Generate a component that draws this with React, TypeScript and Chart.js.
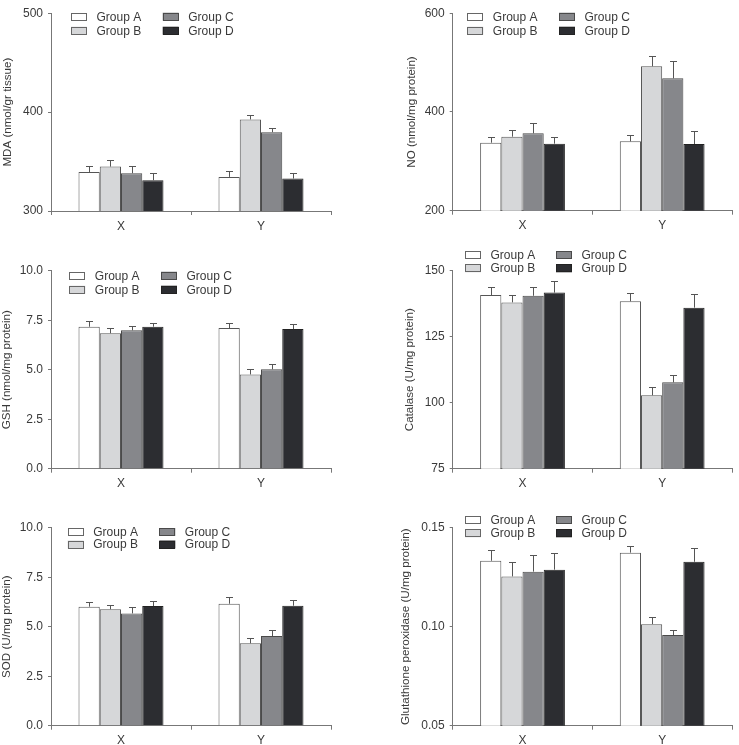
import { useEffect, useRef } from 'react';
import { Chart, registerables } from 'chart.js';

Chart.register(...registerables);

// ---- data ----
const categories = ['X', 'Y'];
const groupNames = ['Group A', 'Group B', 'Group C', 'Group D'];

// Means per group, ordered [X, Y]; errors are the upward SEM whiskers.
const mdaMeans = [[339.5, 334.5], [344.9, 392.6], [338.2, 379.7], [331.1, 332.8]];
const mdaErrors = [[6.4, 6.4], [6.5, 4.7], [7.1, 4.4], [7.1, 5.4]];
const mdaTicks = [300, 400, 500];

const noMeans = [[337.8, 340.5], [350.0, 492.6], [356.8, 468.2], [335.8, 335.1]];
const noErrors = [[11.5, 12.9], [13.5, 21.6], [20.9, 34.5], [13.5, 27.1]];
const noTicks = [200, 400, 600];

const gshMeans = [[7.17, 7.10], [6.84, 4.76], [6.99, 5.02], [7.17, 7.05]];
const gshErrors = [[0.27, 0.27], [0.26, 0.26], [0.20, 0.25], [0.20, 0.26]];
const gshTicks = [0, 2.5, 5, 7.5, 10];

const catalaseMeans = [[140.8, 138.4], [138.0, 102.8], [140.5, 107.7], [141.7, 136.0]];
const catalaseErrors = [[3.1, 3.3], [2.7, 3.0], [3.4, 2.8], [4.4, 5.3]];
const catalaseTicks = [75, 100, 125, 150];

const sodMeans = [[6.01, 6.16], [5.88, 4.16], [5.67, 4.53], [6.04, 6.06]];
const sodErrors = [[0.25, 0.32], [0.23, 0.27], [0.32, 0.32], [0.24, 0.30]];
const sodTicks = [0, 2.5, 5, 7.5, 10];

const gpxMeans = [[0.1333, 0.1374], [0.1254, 0.1013], [0.1278, 0.0958], [0.1288, 0.1328]];
const gpxErrors = [[0.0054, 0.0032], [0.0074, 0.0036], [0.0086, 0.0023], [0.0082, 0.0071]];
const gpxTicks = [0.05, 0.1, 0.15];

// ---- styling ----
const FONT = '"Liberation Sans", Arial, Helvetica, sans-serif';
const AXIS = '#777777';
const TEXT = '#3a3a3a';
const groupFills = ['#ffffff', '#d6d7d9', '#86878b', '#2c2d31'];
const groupBorders = ['#555555', '#555555', '#4a4a4a', '#222222'];

type PanelSpec = {
  title: string;
  means: number[][];
  errors: number[][];
  ticks: number[];
  decimals: number;
  pos: { x: number; y: number; w: number; h: number };
  area: { l: number; r: number; t: number; b: number };
  titleX: number;
  legend: { x: number; y: number; dy: number; col2: number };
};

const panels: PanelSpec[] = [
  {
    title: 'MDA (nmol/gr tissue)', means: mdaMeans, errors: mdaErrors, ticks: mdaTicks, decimals: 0,
    pos: { x: 0, y: 0, w: 370, h: 245 }, area: { l: 51, r: 331, t: 13.3, b: 211 }, titleX: 8,
    legend: { x: 71, y: 12.7, dy: 14, col2: 91.7 },
  },
  {
    title: 'NO (nmol/mg protein)', means: noMeans, errors: noErrors, ticks: noTicks, decimals: 0,
    pos: { x: 370, y: 0, w: 369, h: 245 }, area: { l: 82.7, r: 362, t: 13.3, b: 210.7 }, titleX: 41.7,
    legend: { x: 97.3, y: 12.7, dy: 14, col2: 91.7 },
  },
  {
    title: 'GSH (nmol/mg protein)', means: gshMeans, errors: gshErrors, ticks: gshTicks, decimals: 1,
    pos: { x: 0, y: 250, w: 370, h: 245 }, area: { l: 51, r: 331, t: 20.7, b: 218.7 }, titleX: 7.3,
    legend: { x: 69.3, y: 21.7, dy: 14, col2: 91.7 },
  },
  {
    title: 'Catalase (U/mg protein)', means: catalaseMeans, errors: catalaseErrors, ticks: catalaseTicks, decimals: 0,
    pos: { x: 370, y: 250, w: 369, h: 245 }, area: { l: 82.7, r: 362, t: 20.7, b: 218.7 }, titleX: 40,
    legend: { x: 95, y: 1, dy: 13.3, col2: 91 },
  },
  {
    title: 'SOD (U/mg protein)', means: sodMeans, errors: sodErrors, ticks: sodTicks, decimals: 1,
    pos: { x: 0, y: 500, w: 370, h: 245 }, area: { l: 51, r: 331, t: 27.7, b: 225.7 }, titleX: 7.3,
    legend: { x: 67.7, y: 28, dy: 12.5, col2: 91.6 },
  },
  {
    title: 'Glutathione peroxidase (U/mg protein)', means: gpxMeans, errors: gpxErrors, ticks: gpxTicks, decimals: 2,
    pos: { x: 370, y: 500, w: 369, h: 245 }, area: { l: 82.7, r: 362, t: 27.7, b: 225.7 }, titleX: 35.7,
    legend: { x: 95, y: 16, dy: 13.3, col2: 91 },
  },
];

// Upward whiskers with a short cap, drawn above each bar.
const errorBars = {
  id: 'errorBars',
  afterDatasetsDraw(chart: any) {
    const ctx = chart.ctx;
    const y = chart.scales.y;
    chart.data.datasets.forEach((ds: any, i: number) => {
      const meta = chart.getDatasetMeta(i);
      meta.data.forEach((bar: any, j: number) => {
        const v = ds.data[j];
        const e = ds.errors[j];
        const x = Math.round(bar.x) + 0.5;
        const y0 = y.getPixelForValue(v);
        const y1 = Math.round(y.getPixelForValue(v + e)) + 0.5;
        ctx.save();
        ctx.strokeStyle = '#555555';
        ctx.lineWidth = 1;
        ctx.beginPath();
        ctx.moveTo(x, y0);
        ctx.lineTo(x, y1);
        ctx.moveTo(x - 3.5, y1);
        ctx.lineTo(x + 3.5, y1);
        ctx.stroke();
        ctx.restore();
      });
    });
  },
};

// Two-column legend: A/B in the first column, C/D in the second.
function boxLegend(spec: PanelSpec['legend']) {
  return {
    id: 'boxLegend',
    afterDraw(chart: any) {
      const ctx = chart.ctx;
      ctx.save();
      ctx.font = `12px ${FONT}`;
      ctx.textBaseline = 'middle';
      groupNames.forEach((name, i) => {
        const col = Math.floor(i / 2);
        const row = i % 2;
        const bx = spec.x + col * spec.col2;
        const by = spec.y + row * spec.dy;
        ctx.fillStyle = groupFills[i];
        ctx.fillRect(bx, by, 16, 8);
        ctx.strokeStyle = i === 0 || i === 1 ? '#666666' : groupBorders[i];
        ctx.lineWidth = 1;
        ctx.strokeRect(Math.round(bx) + 0.5, Math.round(by) + 0.5, 15, 7);
        ctx.fillStyle = TEXT;
        ctx.fillText(name, bx + 25.5, by + 4.5);
      });
      ctx.restore();
    },
  };
}

function Panel({ spec }: { spec: PanelSpec }) {
  const ref = useRef<HTMLCanvasElement>(null);

  useEffect(() => {
    const canvas = ref.current;
    if (!canvas) return;
    const { pos, area, ticks } = spec;
    const chart = new Chart(canvas, {
      type: 'bar',
      data: {
        labels: categories,
        datasets: groupNames.map((name, i) => ({
          label: name,
          data: spec.means[i],
          errors: spec.errors[i],
          backgroundColor: groupFills[i],
          borderColor: groupBorders[i],
          borderWidth: 1,
          categoryPercentage: 0.607,
          barPercentage: 1,
        })) as any,
      },
      options: {
        responsive: false,
        animation: false,
        devicePixelRatio: 1,
        layout: { padding: { top: area.t, right: pos.w - area.r, bottom: 0, left: 0 } },
        plugins: {
          legend: { display: false },
          tooltip: { enabled: false },
        },
        scales: {
          x: {
            offset: true,
            grid: {
              offset: true,
              drawOnChartArea: false,
              drawTicks: true,
              tickLength: 4,
              color: AXIS,
            },
            border: { display: true, color: AXIS, width: 1 },
            ticks: { color: TEXT, font: { size: 12, family: FONT }, padding: 4 },
            afterFit: (s: any) => { s.height = pos.h - area.b; },
          },
          y: {
            min: ticks[0],
            max: ticks[ticks.length - 1],
            afterBuildTicks: (s: any) => { s.ticks = ticks.map((v) => ({ value: v })); },
            grid: {
              drawOnChartArea: false,
              drawTicks: true,
              tickLength: 3,
              color: AXIS,
            },
            border: { display: true, color: AXIS, width: 1 },
            ticks: {
              color: TEXT,
              font: { size: 12, family: FONT },
              padding: 5,
              callback: (v: any) => Number(v).toFixed(spec.decimals),
            },
            title: {
              display: true,
              text: spec.title,
              color: TEXT,
              font: { size: 11.6, family: FONT },
              padding: { top: spec.titleX - 7, bottom: 0 },
            },
            afterFit: (s: any) => { s.width = area.l; },
          },
        },
      },
      plugins: [errorBars, boxLegend(spec.legend)],
    });
    return () => chart.destroy();
  }, [spec]);

  return (
    <canvas
      ref={ref}
      width={spec.pos.w}
      height={spec.pos.h}
      style={{ position: 'absolute', left: spec.pos.x, top: spec.pos.y, width: spec.pos.w, height: spec.pos.h }}
    />
  );
}

export default function App() {
  return (
    <div style={{ position: 'absolute', left: 0, top: 0, width: 739, height: 745, background: '#ffffff', overflow: 'hidden' }}>
      {panels.map((p) => (
        <Panel key={p.title} spec={p} />
      ))}
    </div>
  );
}
